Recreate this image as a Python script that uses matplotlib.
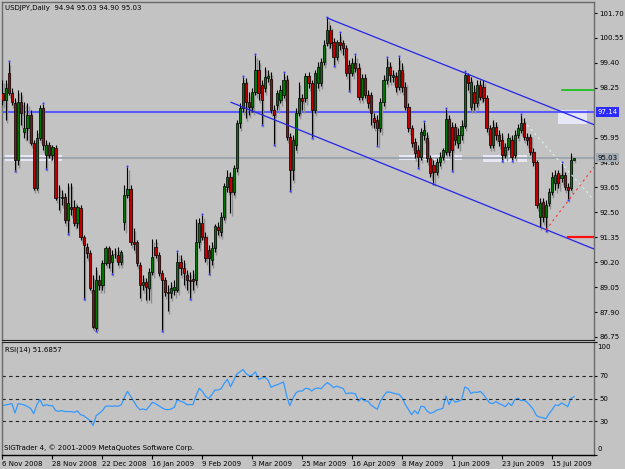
# USDJPY daily candlestick chart (MetaTrader style) with RSI(14) panel
import matplotlib
matplotlib.use("Agg")
import matplotlib.pyplot as plt
import matplotlib.transforms as mtransforms
from matplotlib.patches import Rectangle
import numpy as np

# candle data, one entry per trading day starting 6 Nov 2008
opens = [98.01, 97.69, 98.93, 98.01, 97.55, 94.92, 97.59, 96.21, 96.39, 96.99,
         95.70, 93.63, 95.93, 97.32, 95.15, 95.61, 95.15, 95.47, 93.21, 93.16,
         93.21, 92.15, 92.75, 92.75, 92.01, 92.70, 91.36, 90.90, 90.63, 88.92,
         87.17, 89.38, 89.15, 90.17, 90.86, 90.21, 90.58, 90.53, 90.21, 92.06,
         93.30, 93.58, 91.13, 91.13, 90.07, 89.15, 89.29, 89.01, 89.75, 90.90,
         90.53, 89.70, 89.38, 88.83, 88.78, 88.92, 88.92, 90.21, 89.93, 89.61,
         89.38, 89.43, 89.38, 91.13, 92.01, 91.36, 90.77, 90.30, 90.86, 91.83,
         91.60, 92.29, 93.67, 94.13, 93.44, 94.55, 96.62, 97.32, 98.47, 97.59,
         97.36, 98.05, 99.07, 98.38, 98.24, 98.70, 98.65, 97.22, 97.46, 97.69,
         97.92, 98.61, 95.98, 94.46, 95.61, 97.09, 97.78, 97.78, 98.79, 98.47,
         97.22, 98.47, 98.47, 99.44, 100.32, 100.92, 100.36, 99.67, 100.36, 100.32,
         100.09, 99.30, 98.93, 99.39, 99.16, 97.82, 98.70, 97.92, 97.92, 96.86,
         96.76, 96.39, 97.59, 98.61, 99.21, 98.75, 98.79, 98.29, 99.07, 98.29,
         97.36, 96.39, 95.75, 95.38, 95.06, 96.07, 95.93, 95.01, 94.69, 94.36,
         94.83, 95.06, 95.29, 96.81, 96.44, 96.44, 95.70, 96.07, 96.49, 98.84,
         97.36, 98.05, 97.55, 98.38, 98.29, 97.78, 96.39, 95.61, 96.44, 96.07,
         95.84, 95.15, 95.52, 95.84, 95.15, 96.07, 96.30, 96.62, 95.98, 95.98,
         95.29, 94.83, 92.29, 92.98, 92.29, 92.93, 93.44, 93.86, 94.32, 94.09,
         94.23, 93.67, 93.63, 94.94]
closes = [97.69, 98.24, 98.01, 97.59, 94.92, 97.59, 97.09, 96.39, 96.99, 95.70,
          93.63, 95.93, 97.32, 95.61, 95.61, 95.15, 95.52, 93.16, 93.19, 93.21,
          92.15, 92.93, 92.66, 92.01, 92.75, 91.36, 90.99, 90.63, 89.01, 87.21,
          89.38, 89.15, 90.17, 90.86, 90.17, 90.53, 90.58, 90.21, 90.67, 93.30,
          93.58, 91.13, 91.04, 90.17, 89.15, 89.29, 89.06, 89.75, 90.44, 90.53,
          89.70, 89.38, 88.83, 88.78, 89.01, 89.06, 90.21, 89.93, 89.70, 89.38,
          89.33, 89.33, 91.13, 92.01, 91.36, 90.40, 90.40, 90.86, 91.87, 91.69,
          92.29, 93.72, 94.13, 93.44, 94.55, 96.62, 97.32, 98.47, 97.59, 97.36,
          98.05, 99.07, 98.01, 97.69, 98.75, 98.79, 97.22, 96.99, 98.01, 98.15,
          98.61, 95.98, 94.46, 95.84, 97.09, 97.78, 97.64, 98.79, 98.47, 97.22,
          98.93, 99.21, 99.44, 100.22, 100.92, 100.32, 99.67, 100.36, 100.22, 100.09,
          98.93, 98.93, 99.39, 99.16, 97.82, 98.70, 97.92, 97.55, 97.09, 96.67,
          96.39, 97.59, 98.61, 99.21, 98.84, 98.84, 98.29, 99.07, 98.29, 97.36,
          96.39, 95.70, 95.24, 95.06, 96.21, 96.30, 95.01, 94.32, 94.36, 94.83,
          95.06, 95.38, 96.81, 95.29, 95.38, 95.84, 96.07, 96.49, 98.84, 98.47,
          98.52, 97.55, 98.38, 97.82, 97.78, 96.39, 95.61, 96.44, 96.07, 95.79,
          95.15, 95.52, 95.93, 95.06, 96.07, 96.39, 96.62, 95.98, 95.84, 95.29,
          94.83, 92.84, 92.93, 92.29, 92.84, 93.44, 94.13, 94.23, 93.86, 94.23,
          93.67, 93.53, 94.94, 95.03]
highs = [98.61, 98.61, 99.44, 98.24, 97.78, 98.15, 98.05, 97.59, 97.55, 97.22,
         95.84, 96.30, 97.46, 97.50, 95.84, 95.75, 95.61, 95.61, 93.76, 93.53,
         93.39, 93.86, 93.86, 93.07, 92.84, 92.84, 91.46, 91.09, 90.77, 89.61,
         89.98, 89.61, 90.30, 90.95, 90.95, 90.77, 90.86, 90.90, 90.77, 93.76,
         94.59, 93.76, 91.78, 91.23, 90.21, 89.61, 89.47, 89.93, 91.27, 91.27,
         90.67, 89.84, 89.52, 89.15, 89.29, 89.38, 90.67, 90.53, 90.30, 89.84,
         89.75, 89.84, 92.20, 92.24, 92.38, 91.60, 91.00, 91.13, 91.96, 92.06,
         92.52, 93.86, 94.46, 94.36, 94.69, 96.76, 97.55, 98.75, 98.70, 98.05,
         98.24, 99.76, 99.53, 98.61, 99.21, 99.07, 98.98, 97.46, 98.15, 98.38,
         98.93, 98.84, 96.16, 96.07, 97.32, 98.52, 97.96, 98.93, 98.98, 98.61,
         99.07, 99.44, 99.62, 100.45, 101.47, 101.15, 100.55, 100.45, 100.78, 100.45,
         100.22, 99.53, 99.62, 99.76, 99.39, 98.88, 98.88, 98.15, 98.05, 97.09,
         96.99, 97.78, 98.84, 99.62, 99.44, 99.07, 98.98, 99.67, 99.39, 98.52,
         97.55, 96.53, 95.93, 95.61, 96.39, 96.67, 96.21, 95.15, 94.92, 95.01,
         95.29, 95.47, 97.27, 96.99, 96.67, 96.62, 96.39, 96.76, 98.98, 98.93,
         98.75, 98.38, 98.61, 98.61, 98.61, 97.92, 96.53, 96.76, 96.67, 96.30,
         96.16, 95.70, 96.16, 96.07, 96.30, 96.58, 96.99, 96.86, 96.16, 96.12,
         95.47, 94.92, 93.16, 93.16, 93.07, 93.63, 94.36, 94.46, 94.46, 94.78,
         94.36, 93.86, 95.24, 95.03]
lows = [97.46, 96.76, 97.92, 97.46, 94.46, 94.69, 96.53, 95.93, 95.84, 95.61,
        93.53, 93.53, 95.84, 95.38, 94.55, 95.01, 94.92, 93.07, 92.61, 92.84,
        92.01, 91.55, 92.38, 91.87, 91.78, 91.23, 88.55, 90.40, 88.92, 87.17,
        87.07, 88.92, 88.92, 90.07, 89.93, 89.70, 90.40, 90.07, 90.07, 91.69,
        93.16, 90.99, 90.77, 90.03, 88.55, 88.92, 88.46, 88.46, 89.61, 90.40,
        89.57, 87.07, 88.64, 87.95, 88.55, 88.69, 88.83, 89.61, 89.15, 88.92,
        88.55, 88.92, 89.15, 90.86, 91.23, 90.21, 89.70, 90.07, 90.67, 91.46,
        91.41, 92.15, 93.44, 92.47, 93.30, 94.36, 96.39, 97.13, 96.86, 96.99,
        97.13, 97.92, 97.69, 96.58, 98.05, 98.52, 97.09, 95.66, 97.22, 97.55,
        97.78, 95.84, 93.53, 94.00, 95.38, 96.95, 97.22, 97.59, 98.24, 95.98,
        97.09, 98.24, 98.33, 99.30, 100.18, 100.09, 99.30, 99.53, 99.99, 99.76,
        98.79, 98.15, 98.79, 98.98, 97.69, 97.69, 97.78, 97.32, 96.53, 96.39,
        95.61, 96.21, 97.41, 98.42, 98.52, 98.52, 98.05, 98.15, 98.05, 97.22,
        96.21, 95.52, 95.01, 94.59, 94.92, 95.84, 94.83, 94.13, 93.86, 94.23,
        94.64, 94.92, 95.15, 95.10, 94.46, 95.61, 95.47, 95.84, 96.39, 98.15,
        97.22, 97.22, 97.36, 97.69, 97.59, 96.21, 95.47, 95.47, 95.84, 95.56,
        94.92, 95.01, 95.38, 94.92, 95.01, 95.93, 96.16, 95.84, 95.61, 95.15,
        94.64, 92.70, 91.83, 92.06, 91.69, 92.79, 93.30, 93.53, 93.63, 93.90,
        93.53, 93.12, 93.53, 94.90]

# RSI(14) values per bar
rsi = [43.7, 44.3, 44.9, 45.5, 37.2, 45.5, 44.9, 44.3, 42.8, 41.3,
       36.6, 44.6, 49.1, 43.4, 44.6, 43.7, 43.7, 39.3, 38.7, 39.3,
       38.4, 38.4, 38.4, 37.8, 39.0, 35.7, 34.8, 32.7, 30.6, 26.1,
       34.8, 36.9, 39.3, 43.1, 43.4, 43.1, 43.4, 43.1, 44.3, 50.6,
       56.3, 52.1, 47.6, 43.1, 40.1, 40.7, 39.9, 43.1, 46.7, 45.5,
       43.7, 41.9, 40.4, 40.1, 40.7, 42.2, 49.1, 47.6, 46.7, 44.6,
       44.6, 44.6, 52.7, 59.0, 56.3, 52.1, 50.0, 53.3, 57.5, 57.5,
       58.7, 63.4, 67.0, 60.4, 65.8, 71.5, 73.6, 75.7, 72.1, 70.0,
       70.9, 73.6, 67.0, 67.9, 68.8, 66.4, 59.9, 61.3, 62.2, 63.4,
       64.6, 52.1, 43.7, 50.3, 55.1, 56.6, 56.6, 59.0, 58.7, 56.6,
       58.7, 59.3, 58.7, 61.6, 64.0, 62.2, 59.6, 61.0, 59.9, 59.0,
       54.2, 54.8, 54.8, 54.2, 47.6, 50.6, 47.9, 47.6, 44.3, 42.2,
       40.4, 47.6, 52.1, 55.7, 55.7, 54.8, 54.2, 53.6, 50.6, 44.6,
       40.1, 35.7, 39.3, 36.3, 43.1, 42.8, 38.7, 36.9, 37.8, 39.6,
       40.4, 41.3, 52.1, 44.6, 50.0, 46.7, 47.6, 48.8, 60.1, 59.0,
       54.5, 55.7, 55.4, 56.3, 53.6, 49.7, 46.1, 45.5, 47.3, 45.5,
       44.3, 42.8, 46.1, 43.7, 48.8, 50.3, 48.2, 48.5, 46.7, 43.7,
       40.1, 34.8, 33.6, 33.0, 32.1, 36.6, 40.1, 44.3, 43.7, 46.1,
       44.6, 42.8, 50.0, 51.69]

date_ticks = [0, 16, 32, 48, 64, 80, 96, 112, 128, 144, 160, 176]
date_labels = ["6 Nov 2008", "28 Nov 2008", "22 Dec 2008", "16 Jan 2009",
               "9 Feb 2009", "3 Mar 2009", "25 Mar 2009", "16 Apr 2009",
               "8 May 2009", "1 Jun 2009", "23 Jun 2009", "15 Jul 2009"]
price_ticks = [101.70, 100.55, 99.40, 98.25, 95.95, 94.80, 93.65, 92.50,
               91.35, 90.20, 89.05, 87.90, 86.75]

# chart objects drawn by the trader: (bar0, price0, bar1, price1)
channel_top = (104, 101.47, 189.4, 96.55)
channel_bottom = (73.2, 97.58, 189.4, 90.81)
red_dotted = (174, 91.69, 189.4, 94.59)
pale_dotted = (168, 96.53, 189.4, 93.07)
level_line = 97.14
bid = 95.03
green_level = (179.2, 98.15)
red_level = (181.0, 91.37)
# highlighted zones: (bar0, bar1, price_low, price_high)
zones = [(0.8, 19.1, 94.87, 95.15), (127.0, 147.1, 94.92, 95.15),
         (153.9, 168.0, 94.83, 95.15), (177.9, 187.2, 96.58, 97.22)]

BG = "#C3C3C3"
plt.rcParams['font.family'] = ['DejaVu Sans']
fs = 5

fig = plt.figure(figsize=(6.25, 4.69), dpi=100, facecolor=BG)
ax = fig.add_axes([2 / 625, 1 - 340 / 469, 592 / 625, 338 / 469], facecolor=BG)
ax2 = fig.add_axes([2 / 625, 1 - 455 / 469, 592 / 625, 113 / 469], facecolor=BG)

o = np.array(opens)
c = np.array(closes)
h = np.array(highs)
l = np.array(lows)
x = np.arange(len(o))
up = c >= o
body_lo = np.minimum(o, c)
body_h = np.abs(c - o)

# zones and long lines below the candles
for b0, b1, p0, p1 in zones:
    ax.add_patch(Rectangle((b0, p0), b1 - b0, p1 - p0, facecolor="#EEEEFF",
                           edgecolor="none", alpha=0.85, zorder=1))
ax.axhline(level_line, color="#5A5AFF", lw=1.5, zorder=2)
ax.axhline(bid, color="#9AA3AC", lw=1.3, zorder=1.5)

# candle shadows
ax.vlines(x + 0.4, l - 0.13, h - 0.13, color="#8F8F8F", lw=1.0, zorder=2.5)
ax.bar(x + 0.4, np.maximum(body_h, 0.02), bottom=body_lo - 0.13, width=0.7,
       color="#8F8F8F", linewidth=0, zorder=2.5)

# candles
ax.vlines(x, l, h, color="black", lw=0.8, zorder=3)
colors = np.where(up, "#007800", "#C00000")
ax.bar(x, np.maximum(body_h, 0.01), bottom=body_lo, width=0.7, color=colors,
       edgecolor="black", linewidth=0.5, zorder=4)

# fractal dots
for i in range(2, len(x) - 2):
    if h[i] > max(h[i - 2], h[i - 1], h[i + 1], h[i + 2]):
        ax.plot(x[i], h[i] + 0.06, "s", ms=1.3, color="#3030FF", mew=0, zorder=5)
    if l[i] < min(l[i - 2], l[i - 1], l[i + 1], l[i + 2]):
        ax.plot(x[i], l[i] - 0.06, "s", ms=1.3, color="#3030FF", mew=0, zorder=5)

# trend lines
for seg in (channel_top, channel_bottom):
    ax.plot([seg[0], seg[2]], [seg[1], seg[3]], color="#2424E8", lw=0.9, zorder=5)
ax.plot([red_dotted[0], red_dotted[2]], [red_dotted[1], red_dotted[3]],
        color="#FF3030", lw=0.8, ls=(0, (2, 3)), zorder=5)
ax.plot([pale_dotted[0], pale_dotted[2]], [pale_dotted[1], pale_dotted[3]],
        color="#D8F4F0", lw=0.8, ls=(0, (2, 3)), zorder=5)
ax.plot([green_level[0], 189.4], [green_level[1]] * 2, color="#10C010", lw=1.2, zorder=5)
ax.plot([red_level[0], 189.4], [red_level[1]] * 2, color="#FF1010", lw=1.6, zorder=5)

xmin, xmax = -0.16, 189.4
ax.set_xlim(xmin, xmax)
ax.set_ylim(86.61, 102.21)
ax.set_xticks([])
ax.yaxis.tick_right()
ax.set_yticks(price_ticks)
ax.set_yticklabels([f"{p:.2f}" for p in price_ticks])
ax.tick_params(axis="y", length=2.5, width=0.8, pad=1.5, labelsize=fs)

trans = mtransforms.blended_transform_factory(ax.transAxes, ax.transData)
ax.text(1.006, level_line, f"{level_line:.2f}", transform=trans, fontsize=fs,
        color="white", va="center", ha="left", zorder=10,
        bbox=dict(facecolor="#2B2BFF", edgecolor="none", pad=1.2))
ax.text(1.006, bid, f"{bid:.2f}", transform=trans, fontsize=fs,
        color="black", va="center", ha="left", zorder=10,
        bbox=dict(facecolor="#A4ACB4", edgecolor="none", pad=1.2))

for s in ax.spines.values():
    s.set_color("#6A6A6A")
    s.set_linewidth(1.0)
ax.spines["bottom"].set_color("#202020")
ax.spines["bottom"].set_linewidth(0.8)

# RSI panel
ax2.plot(x, rsi, color="#3399FF", lw=0.9)
for lev in (70, 50, 30):
    ax2.axhline(lev, color="#202020", lw=0.8, ls=(0, (3, 3)))
ax2.set_xlim(xmin, xmax)
ax2.set_ylim(0, 100)
ax2.yaxis.tick_right()
ax2.set_yticks([0, 30, 50, 70, 100])
ax2.set_yticklabels(["", "30", "50", "70", ""])
ax2.tick_params(axis="y", length=2.5, width=0.8, pad=1.5, labelsize=fs)
ax2.text(1.006, 0.956, "100", transform=ax2.transAxes, fontsize=fs, va="center", ha="left")
ax2.text(1.006, 0.053, "0", transform=ax2.transAxes, fontsize=fs, va="center", ha="left")
ax2.set_xticks(date_ticks)
ax2.set_xticklabels(date_labels, ha="left")
ax2.tick_params(axis="x", length=3, width=0.8, pad=1, labelsize=fs)
for s in ax2.spines.values():
    s.set_color("#6A6A6A")
    s.set_linewidth(1.0)
ax2.spines["top"].set_color("#202020")
ax2.spines["top"].set_linewidth(0.8)
ax2.spines["bottom"].set_color("black")

fig.text(5 / 625, 1 - 8 / 469, "USDJPY,Daily  94.94 95.03 94.90 95.03",
         fontsize=fs, va="center", ha="left")
fig.text(5 / 625, 1 - 350 / 469, "RSI(14) 51.6857", fontsize=fs, va="center", ha="left")
fig.text(4 / 625, 1 - 448 / 469, "SIGTrader 4, \u00a9 2001-2009 MetaQuotes Software Corp.",
         fontsize=fs, va="center", ha="left")

fig.savefig("out.png", dpi=100, facecolor=BG)
